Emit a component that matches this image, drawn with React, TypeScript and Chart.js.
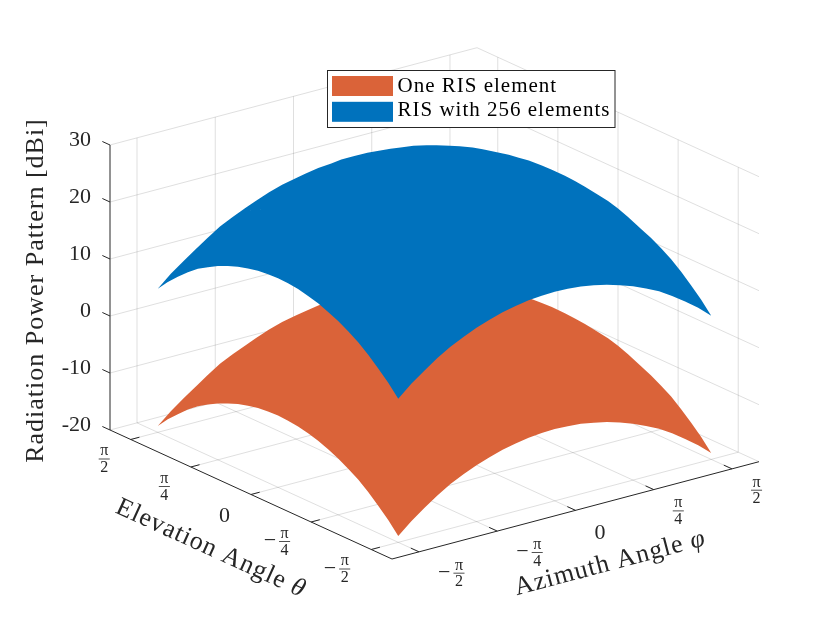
import React, { useEffect, useRef } from 'react';
import { Chart, registerables } from 'chart.js';

Chart.register(...registerables);

// |angle| samples (degrees); the pattern is symmetric in both angles,
// so the tables below hold one quadrant and are mirrored onto -90..90
const quadrantDeg = [0, 7.5, 15, 22.5, 30, 37.5, 45, 52.5, 60, 67.5, 75, 82.5, 90];

// radiation power pattern [dBi]: rows = |elevation|, columns = |azimuth|
const oneElementDbi = [
  [5.2, 5.1, 4.9, 4.6, 4.1, 3.4, 2.5, 1.5, 0.3, -1.1, -2.8, -4.8, -7.4],
  [5.1, 5.0, 4.8, 4.5, 4.0, 3.3, 2.4, 1.4, 0.3, -1.2, -2.9, -4.9, -7.5],
  [4.9, 4.8, 4.6, 4.3, 3.8, 3.1, 2.2, 1.2, 0.0, -1.4, -3.1, -5.1, -7.7],
  [4.6, 4.5, 4.3, 3.9, 3.4, 2.7, 1.9, 0.8, -0.3, -1.8, -3.4, -5.4, -8.1],
  [4.1, 4.0, 3.8, 3.4, 2.9, 2.2, 1.4, 0.3, -0.8, -2.3, -3.9, -5.9, -8.6],
  [3.4, 3.3, 3.1, 2.7, 2.2, 1.5, 0.7, -0.4, -1.5, -3.0, -4.6, -6.6, -9.3],
  [2.5, 2.4, 2.2, 1.9, 1.4, 0.7, -0.2, -1.2, -2.4, -3.8, -5.5, -7.5, -10.1],
  [1.5, 1.4, 1.2, 0.8, 0.3, -0.4, -1.2, -2.2, -3.4, -4.8, -6.5, -8.5, -11.1],
  [0.3, 0.3, 0.0, -0.3, -0.8, -1.5, -2.4, -3.4, -4.5, -6.0, -7.6, -9.6, -12.2],
  [-1.1, -1.2, -1.4, -1.8, -2.3, -3.0, -3.8, -4.8, -6.0, -7.4, -9.1, -11.1, -13.6],
  [-2.8, -2.9, -3.1, -3.4, -3.9, -4.6, -5.5, -6.5, -7.6, -9.1, -10.7, -12.7, -15.2],
  [-4.8, -4.9, -5.1, -5.4, -5.9, -6.6, -7.5, -8.5, -9.6, -11.1, -12.7, -14.6, -16.9],
  [-7.4, -7.5, -7.7, -8.1, -8.6, -9.3, -10.1, -11.1, -12.2, -13.6, -15.2, -16.9, -18.9],
];

const risDbi = [
  [29.3, 29.2, 29.0, 28.7, 28.2, 27.5, 26.6, 25.6, 24.4, 23.0, 21.3, 19.3, 16.7],
  [29.2, 29.1, 28.9, 28.6, 28.1, 27.4, 26.5, 25.5, 24.4, 22.9, 21.2, 19.2, 16.6],
  [29.0, 28.9, 28.7, 28.4, 27.9, 27.2, 26.3, 25.3, 24.1, 22.7, 21.0, 19.0, 16.4],
  [28.7, 28.6, 28.4, 28.0, 27.5, 26.8, 26.0, 24.9, 23.8, 22.3, 20.7, 18.7, 16.0],
  [28.2, 28.1, 27.9, 27.5, 27.0, 26.3, 25.5, 24.4, 23.3, 21.8, 20.2, 18.2, 15.5],
  [27.5, 27.4, 27.2, 26.8, 26.3, 25.6, 24.8, 23.7, 22.6, 21.1, 19.5, 17.5, 14.8],
  [26.6, 26.5, 26.3, 26.0, 25.5, 24.8, 23.9, 22.9, 21.7, 20.3, 18.6, 16.6, 14.0],
  [25.6, 25.5, 25.3, 24.9, 24.4, 23.7, 22.9, 21.9, 20.7, 19.3, 17.6, 15.6, 13.0],
  [24.4, 24.4, 24.1, 23.8, 23.3, 22.6, 21.7, 20.7, 19.6, 18.1, 16.5, 14.5, 11.9],
  [23.0, 22.9, 22.7, 22.3, 21.8, 21.1, 20.3, 19.3, 18.1, 16.7, 15.0, 13.0, 10.5],
  [21.3, 21.2, 21.0, 20.7, 20.2, 19.5, 18.6, 17.6, 16.5, 15.0, 13.4, 11.4, 8.9],
  [19.3, 19.2, 19.0, 18.7, 18.2, 17.5, 16.6, 15.6, 14.5, 13.0, 11.4, 9.5, 7.2],
  [16.7, 16.6, 16.4, 16.0, 15.5, 14.8, 14.0, 13.0, 11.9, 10.5, 8.9, 7.2, 5.2],
];

const seriesNames = ['One RIS element', 'RIS with 256 elements'];
const seriesColors = ['#DA6339', '#0072BD'];

// ticks of both angle axes (in units of pi) and of the dBi axis
const angleTicks = [-0.5, -0.25, 0, 0.25, 0.5];
const angleTickLabels = ['−π/2', '−π/4', '0', 'π/4', 'π/2'];
const zTicks = [-20, -10, 0, 10, 20, 30];

const SERIF = '"Liberation Serif", "Times New Roman", serif';
const INK = '#262626';
const DEG = Math.PI / 180;

// 3-D box: angle limits, dBi limits and its projected layout on the page
const ANG_LIM = 1.842;
const Z_MIN = -20;
const Z_MAX = 30;
const BOX = { ox: 392, oy: 559, ax: 367, ay: -97.3, bx: -282, by: -129, h: 285 };

const project = (phi: number, th: number, z: number) => {
  const u = (phi + ANG_LIM) / (2 * ANG_LIM);
  const v = (th + ANG_LIM) / (2 * ANG_LIM);
  const w = (z - Z_MIN) / (Z_MAX - Z_MIN);
  return {
    x: BOX.ox + u * BOX.ax + v * BOX.bx,
    y: BOX.oy + u * BOX.ay + v * BOX.by - w * BOX.h,
  };
};

const GAP = { x: NaN, y: NaN };

// signed sample angles -90..90 and the quadrant index each one reads
const nq = quadrantDeg.length;
const signedIdx = [...Array(2 * nq - 1).keys()].map((i) => Math.abs(i - (nq - 1)));
const signedDeg = signedIdx.map((q, i) => (i < nq - 1 ? -quadrantDeg[q] : quadrantDeg[q]));

const surfacePoints = (m: number[][]) => {
  const pts: { x: number; y: number }[] = [];
  signedDeg.forEach((el, i) =>
    signedDeg.forEach((az, j) => pts.push(project(az * DEG, el * DEG, m[signedIdx[i]][signedIdx[j]])))
  );
  return pts;
};

const segmentsToPoints = (segs: number[][][]) => {
  const pts: { x: number; y: number }[] = [];
  segs.forEach(([a, b]) => pts.push(project(a[0], a[1], a[2]), project(b[0], b[1], b[2]), GAP));
  return pts;
};

const gridPoints = () => {
  const L = ANG_LIM;
  const segs: number[][][] = [];
  angleTicks.forEach((t) => {
    const a = t * Math.PI;
    segs.push([[a, -L, Z_MIN], [a, L, Z_MIN]]);
    segs.push([[a, L, Z_MIN], [a, L, Z_MAX]]);
    segs.push([[-L, a, Z_MIN], [L, a, Z_MIN]]);
    segs.push([[L, a, Z_MIN], [L, a, Z_MAX]]);
  });
  zTicks.forEach((z) => {
    segs.push([[-L, L, z], [L, L, z]]);
    segs.push([[L, L, z], [L, -L, z]]);
  });
  return segmentsToPoints(segs);
};

const axisPoints = () => {
  const L = ANG_LIM;
  const segs: number[][][] = [
    [[-L, L, Z_MIN], [-L, L, Z_MAX]],
    [[-L, -L, Z_MIN], [-L, L, Z_MIN]],
    [[-L, -L, Z_MIN], [L, -L, Z_MIN]],
  ];
  angleTicks.forEach((t) => {
    const a = t * Math.PI;
    segs.push([[a, -L, Z_MIN], [a, -L + 0.107, Z_MIN]]);
    segs.push([[-L, a, Z_MIN], [-L + 0.087, a, Z_MIN]]);
  });
  zTicks.forEach((z) => segs.push([[-L, L, z], [-L, L + 0.1, z]]));
  return segmentsToPoints(segs);
};

const drawTickLabel = (
  ctx: CanvasRenderingContext2D,
  label: string,
  x: number,
  cy: number,
  align: 'left' | 'right'
) => {
  ctx.fillStyle = INK;
  ctx.textBaseline = 'alphabetic';
  if (!label.includes('/')) {
    ctx.font = `22px ${SERIF}`;
    ctx.textAlign = align;
    ctx.fillText(label, x, cy + 7.5);
    return;
  }
  const neg = label.startsWith('−');
  const [num, den] = label.replace('−', '').split('/');
  ctx.font = `16px ${SERIF}`;
  const fw = Math.max(ctx.measureText(num).width, ctx.measureText(den).width) + 3;
  ctx.font = `22px ${SERIF}`;
  const mw = neg ? ctx.measureText('−').width + 3 : 0;
  const left = align === 'left' ? x : x - mw - fw;
  ctx.textAlign = 'left';
  if (neg) ctx.fillText('−', left, cy + 5.5);
  ctx.fillRect(left + mw, cy - 0.4, fw, 0.8);
  ctx.font = `16px ${SERIF}`;
  ctx.textAlign = 'center';
  ctx.fillText(num, left + mw + fw / 2, cy - 3.6);
  ctx.fillText(den, left + mw + fw / 2, cy + 13.3);
};

const drawTitle = (
  ctx: CanvasRenderingContext2D,
  x: number,
  y: number,
  angle: number,
  plain: string,
  symbol: string
) => {
  ctx.save();
  ctx.translate(x, y);
  ctx.rotate(angle);
  ctx.fillStyle = INK;
  ctx.textBaseline = 'alphabetic';
  ctx.textAlign = 'left';
  (ctx as any).letterSpacing = '1px';
  ctx.font = `26px ${SERIF}`;
  const w1 = ctx.measureText(plain).width;
  ctx.font = `italic 26px ${SERIF}`;
  const w2 = symbol ? ctx.measureText(symbol).width : 0;
  const left = -(w1 + w2) / 2;
  ctx.font = `26px ${SERIF}`;
  ctx.fillText(plain, left, 0);
  if (symbol) {
    ctx.font = `italic 26px ${SERIF}`;
    ctx.fillText(symbol, left + w1, 0);
  }
  ctx.restore();
};

const surfacePlugin = {
  id: 'surfaceQuads',
  beforeDatasetDraw(chart: Chart, args: any) {
    const ds = chart.data.datasets[args.index] as any;
    if (!ds.surface) return;
    const pts = args.meta.data;
    const n = signedDeg.length;
    const ctx = chart.ctx;
    ctx.save();
    ctx.fillStyle = ds.backgroundColor;
    // one path for the whole surface, every patch wound the same way,
    // so the fill is a seamless union of the projected patches
    ctx.beginPath();
    for (let i = 0; i < n - 1; i++) {
      for (let j = 0; j < n - 1; j++) {
        let q = [pts[i * n + j], pts[i * n + j + 1], pts[(i + 1) * n + j + 1], pts[(i + 1) * n + j]];
        let area = 0;
        for (let k = 0; k < 4; k++) {
          const a = q[k];
          const b = q[(k + 1) % 4];
          area += a.x * b.y - b.x * a.y;
        }
        if (area < 0) q = q.reverse();
        ctx.moveTo(q[0].x, q[0].y);
        ctx.lineTo(q[1].x, q[1].y);
        ctx.lineTo(q[2].x, q[2].y);
        ctx.lineTo(q[3].x, q[3].y);
        ctx.closePath();
      }
    }
    ctx.fill('nonzero');
    ctx.restore();
    return false;
  },
  afterDraw(chart: Chart) {
    const ctx = chart.ctx;
    const xs = chart.scales.x;
    const ys = chart.scales.y;
    const px = (p: { x: number; y: number }) => ({ x: xs.getPixelForValue(p.x), y: ys.getPixelForValue(p.y) });
    const L = ANG_LIM;
    ctx.save();

    // dBi tick labels
    ctx.fillStyle = INK;
    ctx.font = `22px ${SERIF}`;
    ctx.textAlign = 'right';
    ctx.textBaseline = 'alphabetic';
    zTicks.forEach((z) => {
      const t = px(project(-L, L, z));
      ctx.fillText(String(z), t.x - 19, t.y + 0.5);
    });

    // angle tick labels
    angleTicks.forEach((a, i) => {
      const ta = px(project(a * Math.PI, -L, Z_MIN));
      drawTickLabel(ctx, angleTickLabels[i], ta.x + 19, ta.y + 21.3, 'left');
      const te = px(project(-L, a * Math.PI, Z_MIN));
      drawTickLabel(ctx, angleTickLabels[i], te.x - 21, te.y + 19.5, 'right');
    });

    // axis titles
    drawTitle(ctx, 43.3, 290.5, -Math.PI / 2, 'Radiation Power Pattern [dBi]', '');
    drawTitle(ctx, 208, 555, Math.atan2(-BOX.by, -BOX.bx), 'Elevation Angle ', 'θ');
    drawTitle(ctx, 612, 570, Math.atan2(BOX.ay, BOX.ax), 'Azimuth Angle ', 'φ');

    // legend
    ctx.fillStyle = '#ffffff';
    ctx.fillRect(327.5, 70.5, 287.5, 57);
    ctx.strokeStyle = INK;
    ctx.lineWidth = 1;
    ctx.strokeRect(327.5, 70.5, 287.5, 57);
    seriesNames.forEach((name, i) => {
      ctx.fillStyle = seriesColors[i];
      ctx.fillRect(332, 76 + i * 25.8, 61, 20);
      ctx.fillStyle = '#000000';
      ctx.font = `21px ${SERIF}`;
      (ctx as any).letterSpacing = '1px';
      ctx.textAlign = 'left';
      ctx.fillText(name, 397.5, 91.7 + i * 24.3);
    });
    ctx.restore();
  },
};

export default function App() {
  const canvasRef = useRef<HTMLCanvasElement | null>(null);
  const chartRef = useRef<Chart | null>(null);

  useEffect(() => {
    if (!canvasRef.current) return;
    const config: any = {
      type: 'scatter',
      data: {
        datasets: [
          {
            label: 'grid',
            data: gridPoints(),
            showLine: true,
            borderColor: 'rgba(38,38,38,0.15)',
            borderWidth: 1,
            pointRadius: 0,
            order: 3,
          },
          {
            label: seriesNames[0],
            data: surfacePoints(oneElementDbi),
            surface: true,
            backgroundColor: seriesColors[0],
            pointRadius: 0,
            order: 2,
          },
          {
            label: seriesNames[1],
            data: surfacePoints(risDbi),
            surface: true,
            backgroundColor: seriesColors[1],
            pointRadius: 0,
            order: 1,
          },
          {
            label: 'axes',
            data: axisPoints(),
            showLine: true,
            borderColor: INK,
            borderWidth: 1,
            pointRadius: 0,
            order: 0,
          },
        ],
      },
      options: {
        animation: false,
        responsive: true,
        maintainAspectRatio: false,
        events: [],
        layout: { padding: 0 },
        scales: {
          x: { type: 'linear', min: 0, max: 840, display: false },
          y: { type: 'linear', min: 0, max: 630, reverse: true, display: false },
        },
        plugins: {
          legend: { display: false },
          tooltip: { enabled: false },
        },
      },
      plugins: [surfacePlugin],
    };
    chartRef.current = new Chart(canvasRef.current, config);
    return () => {
      if (chartRef.current) {
        chartRef.current.destroy();
        chartRef.current = null;
      }
    };
  }, []);

  return (
    <div style={{ position: 'fixed', left: 0, top: 0, width: 840, height: 630, background: '#ffffff' }}>
      <canvas ref={canvasRef} />
    </div>
  );
}
